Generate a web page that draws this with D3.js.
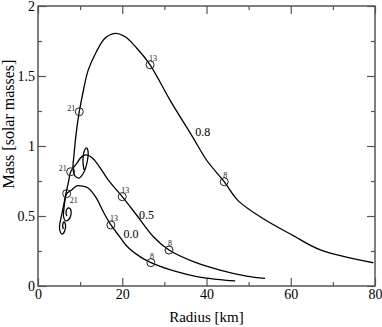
<!DOCTYPE html>
<html>
<head>
<meta charset="utf-8">
<script src="https://cdn.jsdelivr.net/npm/d3@7"></script>
<style>
  body { margin: 0; background: #fff; }
  svg text { font-family: 'Liberation Serif', 'Times New Roman', Times, 'DejaVu Serif', serif !important; }
</style>
</head>
<body>
<svg id="chart" width="382" height="327"></svg>
<script>
// mass-radius curves, [radius km, mass Msun], listed from large radius inward
var curve08 = [[79.6,0.166],[66.9,0.26],[60.6,0.36],[53.5,0.48],[47.5,0.61],[44.2,0.745],
    [40.0,0.90],[36.8,1.06],[31.3,1.33],[26.6,1.58],[23.4,1.70],[20.7,1.78],[18.3,1.805],
    [15.9,1.77],[13.8,1.67],[11.9,1.54],[10.8,1.40],[9.8,1.245],[9.02,1.079],[8.55,0.936],
    [8.31,0.843],[8.78,0.786],[9.73,0.771],[10.92,0.814],[11.75,0.90],[11.87,0.964],
    [11.51,0.986],[10.92,0.957],[10.68,0.886],[10.92,0.829]];
var curve05 = [[53.9,0.055],[49.5,0.071],[43.2,0.114],[36.9,0.174],[31.1,0.257],[27.4,0.352],
    [23.4,0.507],[20.0,0.638],[16.7,0.757],[14.3,0.864],[12.7,0.919],[11.4,0.936],[10.4,0.924],
    [9.2,0.876],[7.76,0.816],[7.24,0.743],[6.65,0.664],[6.05,0.571],[5.46,0.486],[5.10,0.421],
    [5.34,0.382],[5.82,0.371],[6.41,0.40],[6.53,0.436],[6.17,0.457],[5.86,0.436],[6.0,0.407]];
var curve00 = [[46.8,0.036],[42.4,0.048],[37.7,0.067],[32.9,0.102],[26.8,0.167],[24.2,0.21],
    [21.05,0.286],[19.5,0.348],[17.3,0.436],[15.5,0.53],[13.9,0.626],[11.9,0.70],[10.4,0.714],
    [9.2,0.716],[8.0,0.686],[6.8,0.66],[6.41,0.614],[6.17,0.557],[6.05,0.50],[6.41,0.468],
    [7.19,0.471],[7.83,0.514],[7.60,0.554],[6.96,0.554],[6.65,0.521],[6.88,0.50]];

// marked points: [radius, mass, label, label side]
var marks08 = [[9.8,1.245,"21","left"],[26.6,1.58,"13","up"],[44.2,0.745,"8","up"]];
var marks05 = [[7.76,0.816,"21","left"],[20.0,0.638,"13","up"],[31.1,0.257,"8","up"]];
var marks00 = [[6.8,0.66,"21","down"],[17.3,0.436,"13","up"],[26.8,0.167,"8","up"]];

var curveLabels = [[37.3,1.07,"0.8"],[24.0,0.479,"0.5"],[20.3,0.345,"0.0"]];

var xTicks = [0,20,40,60,80];
var yTicks = [0,0.5,1,1.5,2];

var svg = d3.select("#chart");
var plotLeft = 38, plotRight = 375, plotTop = 6, plotBottom = 286;

var x = d3.scaleLinear().domain([0,80]).range([plotLeft,plotRight]);
var y = d3.scaleLinear().domain([0,2]).range([plotBottom,plotTop]);

var g = svg.append("g");

// axes on all four sides, ticks inward
function tickAxis(axis, vals, len) {
    return axis.tickValues(vals).tickSizeInner(len).tickSizeOuter(0).tickFormat("");
}
var xMinor = d3.range(10,80,20);
var yMinor = d3.range(0.25,2,0.5);

var ax = g.append("g").attr("transform","translate(0,"+plotBottom+")")
    .call(d3.axisBottom(x).tickValues(xTicks).tickSize(-8).tickPadding(4).tickFormat(d3.format("d")));
g.append("g").attr("transform","translate(0,"+plotBottom+")").call(tickAxis(d3.axisBottom(x), xMinor, -4));
g.append("g").attr("transform","translate(0,"+plotTop+")").call(tickAxis(d3.axisTop(x), xTicks, -8));
g.append("g").attr("transform","translate(0,"+plotTop+")").call(tickAxis(d3.axisTop(x), xMinor, -4));

var ay = g.append("g").attr("transform","translate("+plotLeft+",0)")
    .call(d3.axisLeft(y).tickValues(yTicks).tickSize(-8).tickPadding(4).tickFormat(function(d){ return String(d); }));
g.append("g").attr("transform","translate("+plotLeft+",0)").call(tickAxis(d3.axisLeft(y), yMinor, -4));
g.append("g").attr("transform","translate("+plotRight+",0)").call(tickAxis(d3.axisRight(y), yTicks, -8));
g.append("g").attr("transform","translate("+plotRight+",0)").call(tickAxis(d3.axisRight(y), yMinor, -4));

g.selectAll(".domain").remove();
g.selectAll("g").attr("font-family", null);
g.selectAll(".tick line").attr("stroke","#555").attr("stroke-width",1.2);
g.selectAll(".tick text").attr("font-size",14).attr("fill","#000");
// ticks are drawn inward, so pull labels back outside the frame
ax.selectAll(".tick text").attr("y",3);
ay.selectAll(".tick text").attr("x",-3);

g.append("rect").attr("x",plotLeft).attr("y",plotTop).attr("width",plotRight-plotLeft).attr("height",plotBottom-plotTop)
    .attr("fill","none").attr("stroke","#555").attr("stroke-width",1.5);

// titles
svg.append("text").attr("x",(plotLeft+plotRight)/2).attr("y",322).attr("text-anchor","middle")
    .attr("font-size",15).text("Radius [km]");
svg.append("text").attr("transform","translate(14,124) rotate(-90)").attr("text-anchor","middle")
    .attr("font-size",16).text("Mass [solar masses]");

// curves
var line = d3.line().x(function(d){ return x(d[0]); }).y(function(d){ return y(d[1]); })
    .curve(d3.curveCatmullRom.alpha(0.5));
[curve08, curve05, curve00].forEach(function(c) {
    svg.append("path").datum(c).attr("d",line).attr("fill","none")
        .attr("stroke","#000").attr("stroke-width",1.3);
});

// markers
[marks08, marks05, marks00].forEach(function(m) {
    m.forEach(function(p) {
        var cx = x(p[0]), cy = y(p[1]);
        svg.append("circle").attr("cx",cx).attr("cy",cy).attr("r",4)
            .attr("fill","none").attr("stroke","#222").attr("stroke-width",1);
        var t = svg.append("text").attr("font-size",8).attr("fill","#222").text(p[2]);
        if (p[3] == "left") t.attr("x",cx-4).attr("y",cy-1).attr("text-anchor","end");
        else if (p[3] == "down") t.attr("x",cx+3).attr("y",cy+9);
        else t.attr("x",cx-1).attr("y",cy-4);
    });
});

curveLabels.forEach(function(l) {
    svg.append("text").attr("x",x(l[0])).attr("y",y(l[1])).attr("font-size",12).text(l[2]);
});
</script>
</body>
</html>
